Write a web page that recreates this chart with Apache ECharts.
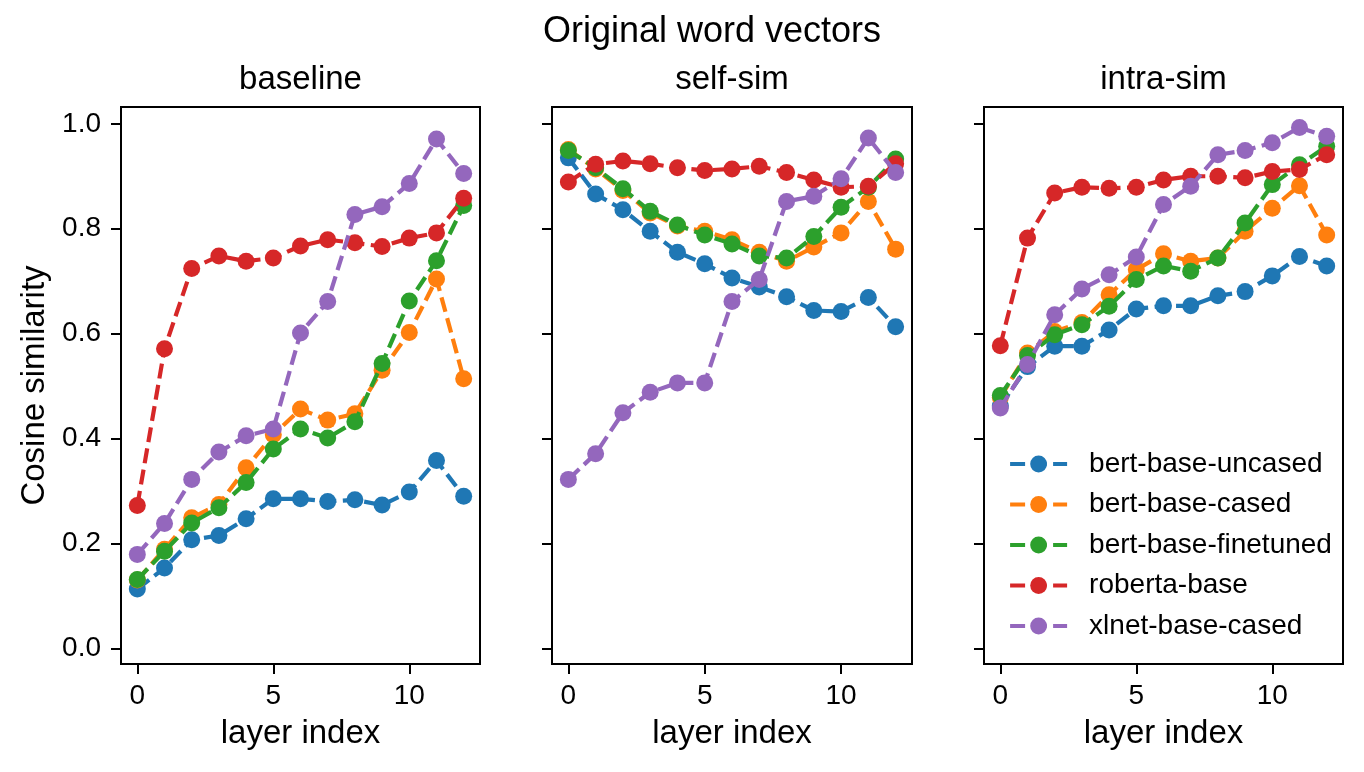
<!DOCTYPE html>
<html>
<head>
<meta charset="utf-8">
<script src="https://cdn.jsdelivr.net/npm/echarts@6/dist/echarts.min.js"></script>
<style>
  html, body { margin: 0; padding: 0; background: #fff; }
  #chart { width: 1364px; height: 772px; }
</style>
</head>
<body>
<div id="chart"></div>
<script>
// layer index on the x axis
var layers = [0, 1, 2, 3, 4, 5, 6, 7, 8, 9, 10, 11, 12];
var xTicks = [0, 5, 10];
var yTicks = [0, 0.2, 0.4, 0.6, 0.8, 1.0];
var panelTitles = ['baseline', 'self-sim', 'intra-sim'];
var models = ['bert-base-uncased', 'bert-base-cased', 'bert-base-finetuned', 'roberta-base', 'xlnet-base-cased'];
var colors = ['#1f77b4', '#ff7f0e', '#2ca02c', '#d62728', '#9467bd'];

// baseline
var baseUncased   = [0.113, 0.153, 0.207, 0.215, 0.247, 0.285, 0.285, 0.280, 0.283, 0.273, 0.298, 0.358, 0.290];
var baseCased     = [0.130, 0.189, 0.249, 0.274, 0.344, 0.407, 0.456, 0.435, 0.447, 0.530, 0.602, 0.704, 0.514];
var baseFinetuned = [0.131, 0.185, 0.239, 0.268, 0.316, 0.380, 0.418, 0.401, 0.432, 0.543, 0.662, 0.739, 0.844];
var baseRoberta   = [0.272, 0.571, 0.724, 0.748, 0.738, 0.744, 0.767, 0.779, 0.773, 0.766, 0.782, 0.792, 0.858];
var baseXlnet     = [0.179, 0.238, 0.322, 0.374, 0.405, 0.418, 0.601, 0.661, 0.827, 0.842, 0.886, 0.971, 0.905];

// self-sim
var selfUncased   = [0.935, 0.866, 0.836, 0.795, 0.755, 0.733, 0.706, 0.689, 0.670, 0.644, 0.642, 0.669, 0.613];
var selfCased     = [0.951, 0.914, 0.873, 0.830, 0.805, 0.795, 0.779, 0.755, 0.738, 0.765, 0.792, 0.852, 0.761];
var selfFinetuned = [0.949, 0.916, 0.876, 0.833, 0.807, 0.788, 0.771, 0.748, 0.744, 0.785, 0.841, 0.879, 0.933];
var selfRoberta   = [0.889, 0.923, 0.929, 0.924, 0.916, 0.911, 0.914, 0.919, 0.907, 0.893, 0.879, 0.881, 0.924];
var selfXlnet     = [0.322, 0.371, 0.449, 0.488, 0.506, 0.506, 0.661, 0.703, 0.852, 0.862, 0.895, 0.973, 0.907];

// intra-sim
var intraUncased   = [0.462, 0.537, 0.576, 0.576, 0.607, 0.647, 0.653, 0.653, 0.672, 0.680, 0.710, 0.747, 0.729];
var intraCased     = [0.478, 0.563, 0.604, 0.621, 0.674, 0.722, 0.752, 0.738, 0.744, 0.795, 0.839, 0.882, 0.788];
var intraFinetuned = [0.482, 0.558, 0.598, 0.617, 0.652, 0.703, 0.729, 0.719, 0.744, 0.811, 0.884, 0.922, 0.957];
var intraRoberta   = [0.577, 0.782, 0.868, 0.879, 0.877, 0.879, 0.893, 0.900, 0.900, 0.897, 0.909, 0.913, 0.941];
var intraXlnet     = [0.458, 0.541, 0.636, 0.685, 0.712, 0.746, 0.846, 0.881, 0.941, 0.949, 0.964, 0.993, 0.976];

var panels = [
  [baseUncased, baseCased, baseFinetuned, baseRoberta, baseXlnet],
  [selfUncased, selfCased, selfFinetuned, selfRoberta, selfXlnet],
  [intraUncased, intraCased, intraFinetuned, intraRoberta, intraXlnet]
];

var font = 'Liberation Sans, Arial, Helvetica, sans-serif';
var gridLefts = [121, 552, 984];
var gridWidths = [359, 360, 359];

var chart = echarts.init(document.getElementById('chart'));

var titles = [{
  text: 'Original word vectors',
  left: 712, top: 14, textAlign: 'center', padding: 0,
  textStyle: { fontFamily: font, fontSize: 36, fontWeight: 'normal', color: '#000' }
}];
var grids = [], xAxes = [], yAxes = [], series = [];

for (var p = 0; p < 3; p++) {
  titles.push({
    text: panelTitles[p],
    left: gridLefts[p] + gridWidths[p] / 2, top: 63, textAlign: 'center', padding: 0,
    textStyle: { fontFamily: font, fontSize: 33, fontWeight: 'normal', color: '#000' }
  });
  grids.push({
    left: gridLefts[p], top: 107, width: gridWidths[p], height: 557,
    show: true, borderColor: '#000', borderWidth: 2, backgroundColor: 'transparent'
  });
  xAxes.push({
    type: 'value', gridIndex: p, min: -0.6, max: 12.6,
    name: 'layer index', nameLocation: 'middle', nameGap: 53,
    nameTextStyle: { fontFamily: font, fontSize: 33, color: '#000' },
    axisLine: { show: true, onZero: false, lineStyle: { color: '#000', width: 2 } },
    axisTick: { show: true, inside: false, length: 10, customValues: xTicks, lineStyle: { color: '#000', width: 2 } },
    axisLabel: { show: true, margin: 18, customValues: xTicks, fontFamily: font, fontSize: 28, color: '#000' },
    splitLine: { show: false }
  });
  yAxes.push({
    type: 'value', gridIndex: p, min: -0.03, max: 1.032,
    name: p === 0 ? 'Cosine similarity' : '', nameLocation: 'middle', nameGap: 70, nameRotate: 90,
    nameTextStyle: { fontFamily: font, fontSize: 33, color: '#000' },
    axisLine: { show: true, onZero: false, lineStyle: { color: '#000', width: 2 } },
    axisTick: { show: true, inside: false, length: 10, customValues: yTicks, lineStyle: { color: '#000', width: 2 } },
    axisLabel: {
      show: p === 0, margin: 20, customValues: yTicks, fontFamily: font, fontSize: 28, color: '#000',
      formatter: function (v) { return v.toFixed(1); }
    },
    splitLine: { show: false }
  });
  for (var m = 0; m < models.length; m++) {
    var vals = panels[p][m];
    series.push({
      name: models[m],
      type: 'line',
      xAxisIndex: p, yAxisIndex: p,
      z: 2 + m,
      data: layers.map(function (x, i) { return [x, vals[i]]; }),
      symbol: 'circle', symbolSize: 17, showAllSymbol: true,
      color: colors[m],
      itemStyle: { color: colors[m], borderWidth: 0 },
      lineStyle: { color: colors[m], width: 4.2, type: [15, 6.5] },
      emphasis: { disabled: true },
      silent: true
    });
  }
}

chart.setOption({
  animation: false,
  backgroundColor: '#fff',
  title: titles,
  grid: grids,
  xAxis: xAxes,
  yAxis: yAxes,
  legend: {
    data: models,
    orient: 'vertical',
    left: 1008, top: 450, padding: 0,
    itemWidth: 57, itemHeight: 21, itemGap: 12.5,
    lineStyle: { width: 4.2, type: [15, 6.5] },
    textStyle: { fontFamily: font, fontSize: 28, color: '#000', lineHeight: 28, padding: [0, 0, 0, 17] },
    selectedMode: false
  },
  series: series
});
</script>
</body>
</html>
